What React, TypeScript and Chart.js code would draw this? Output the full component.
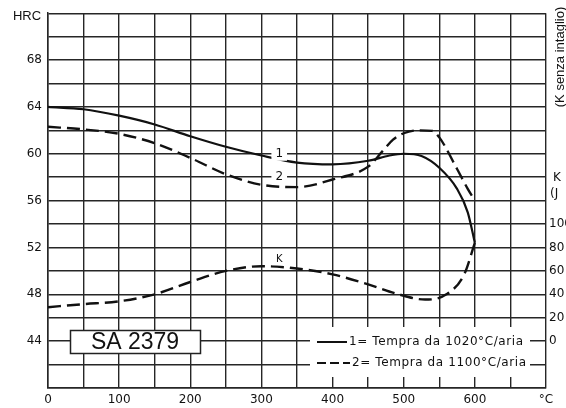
import React, { useEffect, useRef } from "react";
import { Chart, registerables } from "chart.js";

Chart.register(...registerables);

// Temperature (°C) for each curve
const TEMP_1 = [0, 50, 100, 150, 200, 250, 300, 350, 400, 450, 480, 500, 525, 550, 575, 590, 600];
const HRC_1 = [64.0, 63.8, 63.25, 62.5, 61.5, 60.6, 59.85, 59.25, 59.1, 59.4, 59.85, 60.0, 59.8, 58.8, 57.0, 55.0, 52.4];

const TEMP_2 = [0, 50, 100, 150, 200, 250, 300, 350, 400, 450, 470, 485, 500, 520, 540, 550, 575, 590, 600];
const HRC_2 = [62.3, 62.08, 61.7, 60.9, 59.65, 58.25, 57.35, 57.15, 57.8, 58.9, 60.2, 61.2, 61.75, 62.0, 61.95, 61.4, 58.7, 57.0, 56.0];

const TEMP_K = [0, 50, 100, 150, 200, 250, 300, 350, 400, 450, 490, 530, 560, 585, 600];
const K_J = [29, 31.6, 34, 40, 50.5, 60, 64, 62, 57, 48.5, 40.5, 35.5, 40, 57, 84];

const X_LABELS = ["0", "100", "200", "300", "400", "500", "600"];
const Y_LABELS = [44, 48, 52, 56, 60, 64, 68];
const K_LABELS = [0, 20, 40, 60, 80, 100];

const LEGEND_1 = "1= Tempra da 1020°C/aria";
const LEGEND_2 = "2= Tempra da 1100°C/aria";
const TITLE = "SA 2379";

const toPts = (xs: number[], ys: number[]) => xs.map((x, i) => ({ x, y: ys[i] }));

const overlay = {
  id: "overlay",
  afterDraw(chart: any) {
    const ctx = chart.ctx as CanvasRenderingContext2D;
    const xs = chart.scales.x;
    const ys = chart.scales.y;
    ctx.save();

    // legend box (white, covering grid)
    ctx.fillStyle = "#fff";
    ctx.fillRect(310, 327, 220, 50);
    ctx.strokeStyle = "#111";
    ctx.fillStyle = "#111";
    ctx.lineWidth = 2;
    ctx.beginPath();
    ctx.moveTo(317, 342);
    ctx.lineTo(347, 342);
    ctx.stroke();
    ctx.setLineDash([9, 4]);
    ctx.beginPath();
    ctx.moveTo(317, 363);
    ctx.lineTo(350, 363);
    ctx.stroke();
    ctx.setLineDash([]);
    ctx.font = "12px 'DejaVu Sans'";
    (ctx as any).letterSpacing = "0.6px";
    ctx.textAlign = "left";
    ctx.textBaseline = "middle";
    ctx.fillText(LEGEND_1, 349, 342);
    ctx.fillText(LEGEND_2, 352, 363);
    (ctx as any).letterSpacing = "0px";

    // title box
    ctx.fillStyle = "#fff";
    ctx.fillRect(70, 330, 130, 23);
    ctx.lineWidth = 1.5;
    ctx.strokeStyle = "#222";
    ctx.strokeRect(70.5, 330.5, 130, 23);
    ctx.fillStyle = "#111";
    ctx.font = "23px Arial, 'Liberation Sans'";
    ctx.textAlign = "center";
    ctx.textBaseline = "middle";
    ctx.fillText(TITLE, 135, 343);

    // curve labels
    const label = (t: string, xv: number, yv: number, size: number) => {
      const px = xs.getPixelForValue(xv);
      const py = ys.getPixelForValue(yv);
      ctx.font = `${size}px 'DejaVu Sans'`;
      const w = ctx.measureText(t).width;
      ctx.fillStyle = "#fff";
      ctx.fillRect(px - w / 2 - 4, py - size / 2 - 1, w + 8, size + 2);
      ctx.fillStyle = "#111";
      ctx.textAlign = "center";
      ctx.textBaseline = "middle";
      ctx.fillText(t, px, py);
    };
    label("1", 325, 60, 12);
    label("2", 325, 58, 12);
    label("K", 325, 51, 10);

    // axis titles
    ctx.fillStyle = "#111";
    ctx.font = "13px Arial, 'Liberation Sans'";
    ctx.textAlign = "center";
    ctx.textBaseline = "middle";
    ctx.fillText("HRC", 27, 16);
    ctx.textAlign = "left";
    ctx.font = "12px 'DejaVu Sans'";
    ctx.fillText("K", 553, 178);
    ctx.fillText("(J", 550, 194);
    ctx.translate(560, 57);
    ctx.rotate(-Math.PI / 2);
    ctx.font = "13px Arial, 'Liberation Sans'";
    ctx.textAlign = "center";
    ctx.fillText("(K senza intaglio)", 0, 0);
    ctx.restore();
  },
};

export default function App() {
  const ref = useRef<HTMLCanvasElement>(null);
  useEffect(() => {
    if (!ref.current) return;
    const gridColor = "#262626";
    const chart = new Chart(ref.current, {
      type: "line",
      data: {
        datasets: [
          {
            label: "1",
            data: toPts(TEMP_1, HRC_1),
            borderColor: "#111",
            borderWidth: 2.2,
            pointRadius: 0,
            cubicInterpolationMode: "monotone",
            yAxisID: "y",
          },
          {
            label: "2",
            data: toPts(TEMP_2, HRC_2),
            borderColor: "#111",
            borderWidth: 2.4,
            borderDash: [13, 6],
            pointRadius: 0,
            cubicInterpolationMode: "monotone",
            yAxisID: "y",
          },
          {
            label: "K",
            data: toPts(TEMP_K, K_J),
            borderColor: "#111",
            borderWidth: 2.4,
            borderDash: [13, 6],
            pointRadius: 0,
            cubicInterpolationMode: "monotone",
            yAxisID: "y2",
          },
        ],
      },
      options: {
        responsive: false,
        animation: false,
        layout: { padding: { top: 9, left: 0, right: 0, bottom: 0 } },
        plugins: { legend: { display: false }, tooltip: { enabled: false } },
        scales: {
          x: {
            type: "linear",
            min: 0,
            max: 700,
            afterFit: (s: any) => {
              s.height = 20;
            },
            ticks: {
              stepSize: 50,
              autoSkip: false,
              maxRotation: 0,
              padding: 5,
              color: "#111",
              font: { family: "'DejaVu Sans'", size: 12 },
              callback: (v: any) => {
                const n = Number(v);
                if (n === 700) return "°C";
                const i = X_LABELS.indexOf(String(n));
                return i >= 0 ? X_LABELS[i] : "";
              },
            },
            grid: { color: gridColor, lineWidth: 1.4, drawTicks: false },
            border: { color: gridColor, width: 1.5 },
          },
          y: {
            type: "linear",
            position: "left",
            min: 40,
            max: 72,
            afterFit: (s: any) => {
              s.width = 48;
            },
            ticks: {
              stepSize: 2,
              autoSkip: false,
              padding: 6,
              color: "#111",
              font: { family: "'DejaVu Sans'", size: 12 },
              callback: (v: any) => (Y_LABELS.includes(Number(v)) ? String(v) : ""),
            },
            grid: { color: gridColor, lineWidth: 1.4, drawTicks: false },
            border: { color: gridColor, width: 1.5 },
          },
          y2: {
            type: "linear",
            position: "right",
            min: -40,
            max: 280,
            afterFit: (s: any) => {
              s.width = 20;
            },
            ticks: {
              stepSize: 20,
              autoSkip: false,
              padding: 3,
              color: "#111",
              font: { family: "'DejaVu Sans'", size: 12 },
              callback: (v: any) => (K_LABELS.includes(Number(v)) ? String(v) : ""),
            },
            grid: { display: false, drawTicks: false },
            border: { display: false },
          },
        },
      },
      plugins: [overlay],
    });
    return () => chart.destroy();
  }, []);
  return (
    <div style={{ position: "fixed", left: 0, top: 0, width: 566, height: 408, background: "#fff" }}>
      <canvas ref={ref} width={566} height={408} />
    </div>
  );
}
